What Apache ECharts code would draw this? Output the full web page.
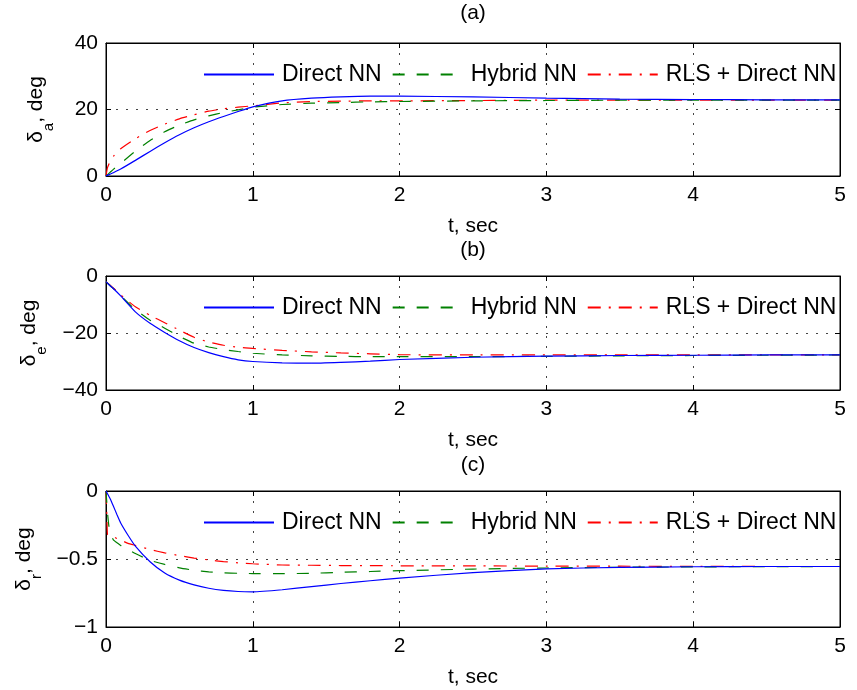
<!DOCTYPE html>
<html><head><meta charset="utf-8">
<script src="https://cdn.jsdelivr.net/npm/echarts@6/dist/echarts.min.js"></script>
<style>html,body{margin:0;padding:0;background:#fff}#c{width:857px;height:690px}</style>
</head><body><div id="c"></div><script>
// ---- data ----
const seriesNames = ['Direct NN', 'Hybrid NN', 'RLS + Direct NN'];
const panelTitles = ['(a)', '(b)', '(c)'];
const xTicks = [0, 1, 2, 3, 4, 5];

// panel (a): delta_a, deg
const tA = [0, 0.01, 0.03, 0.05, 0.1, 0.2, 0.3, 0.4, 0.5, 0.6, 0.7, 0.8, 0.9, 1.0, 1.2, 1.4, 1.6, 1.8, 2.0, 2.5, 3.0, 3.5, 4.0, 4.5, 5.0];
const aDirect = [0, 0.2, 0.6, 1.0, 2.1, 4.7, 7.4, 10.0, 12.4, 14.5, 16.3, 17.9, 19.4, 20.8, 22.6, 23.4, 23.8, 24.0, 24.0, 23.8, 23.4, 23.1, 23.0, 22.9, 22.9];
const aHybrid = [0, 0.4, 1.2, 2.0, 3.8, 7.5, 10.7, 13.3, 15.3, 16.9, 18.1, 19.1, 19.9, 20.7, 21.5, 21.9, 22.1, 22.3, 22.4, 22.6, 22.7, 22.8, 22.8, 22.8, 22.8];
const aRls = [0, 2.5, 4.6, 5.9, 8.2, 11.2, 13.7, 15.6, 17.2, 18.4, 19.5, 20.2, 20.7, 21.1, 22.0, 22.4, 22.5, 22.6, 22.6, 22.7, 22.8, 22.8, 22.8, 22.8, 22.8];

// panel (b): delta_e, deg
const tB = [0, 0.01, 0.03, 0.05, 0.1, 0.2, 0.3, 0.4, 0.5, 0.6, 0.7, 0.8, 0.9, 1.0, 1.2, 1.4, 1.6, 1.8, 2.0, 2.5, 3.0, 3.5, 4.0, 4.5, 5.0];
const bDirect = [-2, -2.5, -3.5, -4.4, -7.0, -12.6, -16.6, -19.8, -22.7, -25.1, -26.9, -28.3, -29.4, -30.0, -30.5, -30.6, -30.3, -29.9, -29.3, -28.5, -28.1, -27.9, -27.8, -27.7, -27.7];
const bHybrid = [-2, -2.5, -3.5, -4.4, -6.9, -11.8, -15.5, -18.3, -21.2, -23.6, -24.9, -25.8, -26.5, -27.1, -27.7, -28.0, -28.2, -28.3, -28.3, -28.3, -28.2, -28.0, -27.9, -27.8, -27.7];
const bRls = [-2, -2.4, -3.3, -4.2, -6.6, -10.8, -13.8, -16.4, -19.0, -21.5, -23.2, -24.3, -25.0, -25.4, -26.1, -26.6, -27.0, -27.3, -27.6, -27.7, -27.7, -27.7, -27.7, -27.7, -27.7];

// panel (c): delta_r, deg
const tC = [0, 0.005, 0.01, 0.02, 0.03, 0.05, 0.075, 0.1, 0.15, 0.2, 0.3, 0.4, 0.5, 0.6, 0.7, 0.8, 0.9, 1.0, 1.2, 1.4, 1.6, 1.8, 2.0, 2.5, 3.0, 3.5, 4.0, 4.5, 5.0];
const cDirect = [0, -0.01, -0.02, -0.04, -0.06, -0.11, -0.175, -0.235, -0.325, -0.405, -0.52, -0.603, -0.655, -0.69, -0.715, -0.731, -0.739, -0.741, -0.726, -0.703, -0.68, -0.66, -0.64, -0.60, -0.572, -0.562, -0.557, -0.555, -0.555];
const cHybrid = [0, -0.08, -0.16, -0.26, -0.31, -0.36, -0.38, -0.40, -0.43, -0.46, -0.51, -0.54, -0.565, -0.583, -0.594, -0.601, -0.605, -0.607, -0.608, -0.605, -0.598, -0.592, -0.586, -0.574, -0.566, -0.561, -0.558, -0.556, -0.555];
const cRls = [0, -0.15, -0.32, -0.33, -0.33, -0.335, -0.35, -0.36, -0.385, -0.40, -0.43, -0.455, -0.475, -0.493, -0.507, -0.519, -0.528, -0.535, -0.544, -0.546, -0.548, -0.549, -0.55, -0.551, -0.552, -0.553, -0.554, -0.555, -0.555];

const yRanges = [[0, 40, 20], [-40, 0, 20], [-1, 0, 0.5]];
const ySub = ['a', 'e', 'r'];

// ---- build ----
const FONT = '"Liberation Sans", Arial, Helvetica, sans-serif';
const grids = [
  {left: 106, right: 17, top: 43, height: 133},
  {left: 106, right: 17, top: 276, height: 114},
  {left: 106, right: 17, top: 491, height: 136}
];
const yNameGaps = [50, 57, 62];
const times = [tA, tB, tC];
const vals = [[aDirect, aHybrid, aRls], [bDirect, bHybrid, bRls], [cDirect, cHybrid, cRls]];
const colors = ['#0000ff', '#008000', '#ff0000'];
const dashes = ['solid', [12, 12], [13, 8, 2, 8]];
const fmt = v => (v < 0 ? '\u2212' + Math.abs(v) : String(v));

const xAxis = [], yAxis = [], series = [], legend = [], graphic = [];
grids.forEach((g, i) => {
  xAxis.push({
    type: 'value', gridIndex: i, min: 0, max: 5, interval: 1, position: 'bottom',
    axisLine: {onZero: false, lineStyle: {color: '#000', width: 1}},
    axisTick: {inside: true, length: 5, lineStyle: {color: '#000'}},
    axisLabel: {fontSize: 21, color: '#000', margin: 9, fontFamily: FONT, formatter: fmt},
    splitLine: {show: true, lineStyle: {type: [2, 8], color: '#444', width: 1}},
    name: 't, sec', nameLocation: 'middle', nameGap: 40,
    nameTextStyle: {fontSize: 21, color: '#000', fontFamily: FONT}
  });
  xAxis.push({
    type: 'value', gridIndex: i, min: 0, max: 5, interval: 1, position: 'top',
    axisLine: {onZero: false, lineStyle: {color: '#000', width: 1}},
    axisTick: {inside: true, length: 5, lineStyle: {color: '#000'}},
    axisLabel: {show: false}, splitLine: {show: false}
  });
  const [mn, mx, iv] = yRanges[i];
  yAxis.push({
    type: 'value', gridIndex: i, min: mn, max: mx, interval: iv, position: 'left',
    axisLine: {show: true, onZero: false, lineStyle: {color: '#000', width: 1}},
    axisTick: {show: true, inside: true, length: 5, lineStyle: {color: '#000'}},
    axisLabel: {fontSize: 21, color: '#000', margin: 8, fontFamily: FONT, formatter: fmt},
    splitLine: {show: true, lineStyle: {type: [2, 8], color: '#444', width: 1}},
    name: '{n|\u03b4}{s|' + ySub[i] + '}{n|, deg}', nameLocation: 'middle', nameGap: yNameGaps[i], nameRotate: 90,
    nameTextStyle: {fontSize: 21, color: '#000', fontFamily: FONT,
      rich: {n: {fontSize: 21, color: '#000', fontFamily: FONT},
             s: {fontSize: 15, color: '#000', fontFamily: FONT, padding: [24, 0, 0, 0]}}}
  });
  yAxis.push({
    type: 'value', gridIndex: i, min: mn, max: mx, interval: iv, position: 'right',
    axisLine: {show: true, onZero: false, lineStyle: {color: '#000', width: 1}},
    axisTick: {show: true, inside: true, length: 5, lineStyle: {color: '#000'}},
    axisLabel: {show: false}, splitLine: {show: false}
  });
  seriesNames.forEach((nm, k) => {
    series.push({
      name: nm, type: 'line', xAxisIndex: 2 * i, yAxisIndex: 2 * i,
      data: times[i].map((t, j) => [t, vals[i][k][j]]),
      symbol: 'none', smooth: 0.15, animation: false,
      lineStyle: {color: colors[k], width: 1.2, type: dashes[k]},
      itemStyle: {color: colors[k]}, z: 3 - k + 2
    });
  });
  legend.push({
    data: seriesNames, left: 203, top: g.top + 20, orient: 'horizontal', padding: 0,
    itemWidth: 70, itemHeight: 14, itemGap: 10, selectedMode: false,
    itemStyle: {color: 'rgba(0,0,0,0)', borderColor: 'rgba(0,0,0,0)', borderWidth: 0, opacity: 0},
    textStyle: {fontSize: 23, color: '#000', fontFamily: FONT, padding: [0, 0, 0, 3]}
  });
  graphic.push({
    type: 'text', x: 473, y: g.top - (i === 0 ? 30 : 26),
    style: {text: panelTitles[i], align: 'center', verticalAlign: 'middle', fontSize: 21, fontFamily: FONT, fill: '#000'}
  });
});

const chart = echarts.init(document.getElementById('c'), null, {renderer: 'canvas'});
chart.setOption({
  animation: false, backgroundColor: '#fff',
  grid: grids.map(g => Object.assign({show: true, borderColor: '#000', borderWidth: 1, backgroundColor: 'transparent'}, g)),
  xAxis, yAxis, series, legend, graphic
});
</script></body></html>
